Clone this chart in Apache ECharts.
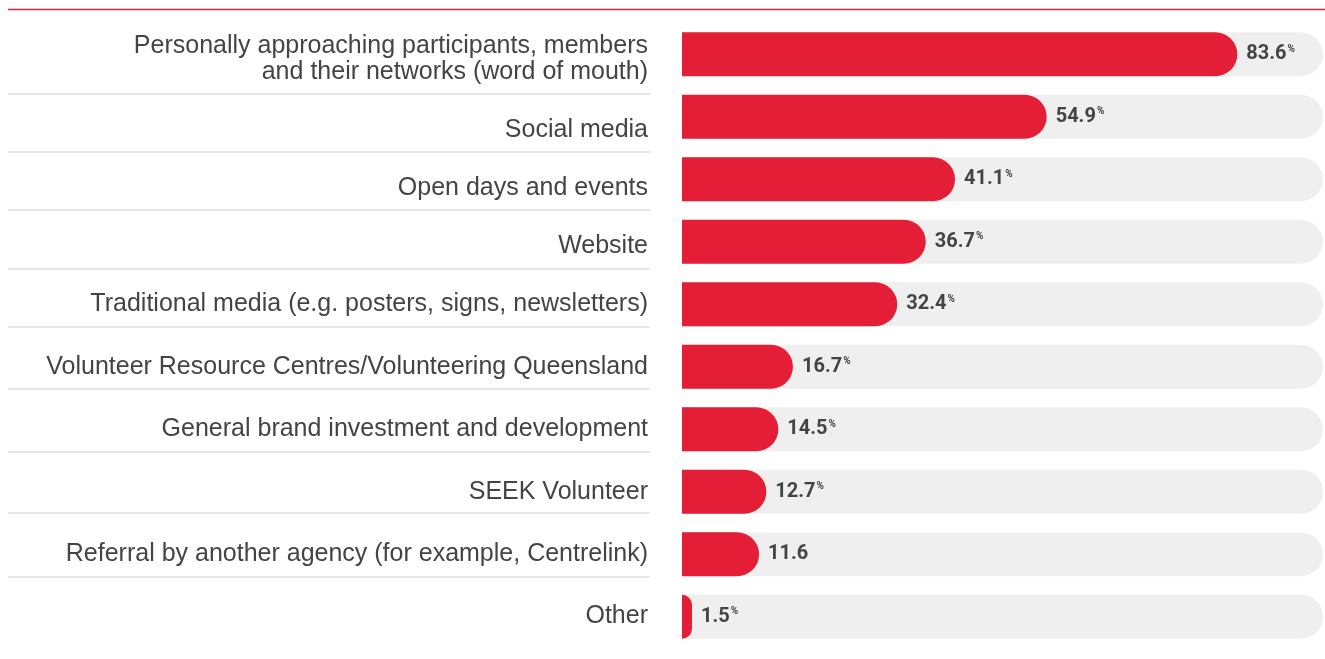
<!DOCTYPE html>
<html>
<head>
<meta charset="utf-8">
<script src="https://cdn.jsdelivr.net/npm/echarts@6/dist/echarts.min.js"></script>
<style>
  html, body { margin: 0; padding: 0; background: #fff; }
  #main { width: 1325px; height: 659px; }
</style>
</head>
<body>
<div id="main"></div>
<script>
// categories, top to bottom
var categories = [
  'Personally approaching participants, members\nand their networks (word of mouth)',
  'Social media',
  'Open days and events',
  'Website',
  'Traditional media (e.g. posters, signs, newsletters)',
  'Volunteer Resource Centres/Volunteering Queensland',
  'General brand investment and development',
  'SEEK Volunteer',
  'Referral by another agency (for example, Centrelink)',
  'Other'
];
var values = [83.6, 54.9, 41.1, 36.7, 32.4, 16.7, 14.5, 12.7, 11.6, 1.5];
// the original prints no % sign on this one
var showPercent = [true, true, true, true, true, true, true, true, false, true];

var red = '#e31e36';
var labelFont = 'Liberation Sans';

// the labels sit a little off the bar centres in the original (px, + is down)
var labelShift = [5, 13, 9, 4, 0, 0, 0, 0, 0, -1];
var labelRich = { n: { fontFamily: labelFont, fontSize: 25, lineHeight: 26, color: '#444' } };
labelShift.forEach(function (d, i) {
  // an empty spacer line above (or below) pushes the text down (or up)
  labelRich['s' + i] = { fontSize: 1, lineHeight: Math.max(1, Math.abs(2 * d)) };
});

var sepStyle = { stroke: '#dedede', lineWidth: 1.5 };
function sep(y) {
  return { type: 'line', shape: { x1: 8, y1: y, x2: 650, y2: y }, style: sepStyle };
}

var chart = echarts.init(document.getElementById('main'));

var option = {
  animation: false,
  grid: { left: 682, right: 2, top: 23, height: 625 },
  xAxis: {
    type: 'value', min: 0, max: 96.5,
    show: false
  },
  yAxis: {
    type: 'category',
    data: categories,
    inverse: true,
    axisLine: { show: false },
    axisTick: { show: false },
    axisLabel: {
      margin: 34,
      formatter: function (v, i) {
        var lines = v.split('\n').map(function (line) { return '{n|' + line + '}'; });
        var d = labelShift[i];
        if (d > 0) lines.unshift('{s' + i + '| }');
        if (d < 0) lines.push('{s' + i + '| }');
        return lines.join('\n');
      },
      rich: labelRich
    }
  },
  series: [{
    type: 'bar',
    data: values,
    barWidth: 44,
    itemStyle: { color: red, borderRadius: [0, 22, 22, 0] },
    showBackground: true,
    backgroundStyle: { color: '#efefef', borderRadius: [0, 22, 22, 0] },
    label: {
      show: true,
      position: 'right',
      distance: 9,
      formatter: function (p) {
        var s = '{v|' + p.value.toFixed(1) + '}';
        if (showPercent[p.dataIndex]) s += '{p|%}';
        return s;
      },
      rich: {
        v: {
          fontFamily: 'Roboto',
          fontWeight: 'bold', fontSize: 20, color: '#444'
        },
        p: {
          fontFamily: 'Roboto',
          fontWeight: 'bold', fontSize: 10, color: '#444',
          verticalAlign: 'top', padding: [0, 0, 9, 1]
        }
      }
    }
  }],
  graphic: [
    // red rule on top
    { type: 'line', shape: { x1: 8, y1: 9.5, x2: 1325, y2: 9.5 }, style: { stroke: red, lineWidth: 1.5 } },
    // grey separators under the labels
    sep(94), sep(152), sep(210), sep(269), sep(327),
    sep(389), sep(452), sep(513), sep(577)
  ]
};
chart.setOption(option);
</script>
</body>
</html>
